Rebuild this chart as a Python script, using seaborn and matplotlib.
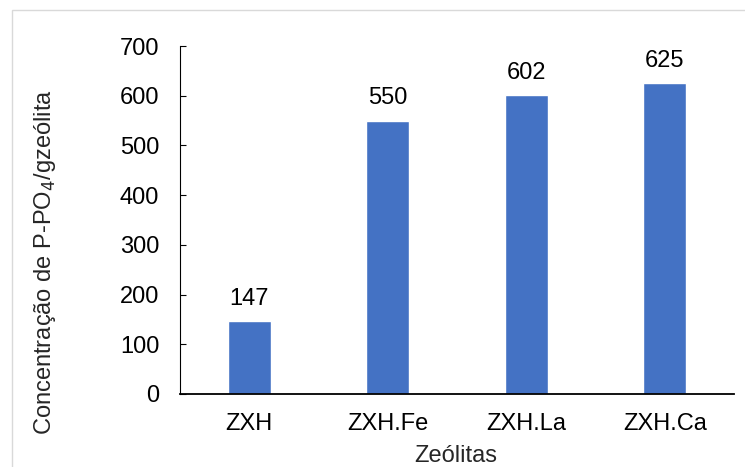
import matplotlib
matplotlib.use("Agg")
import matplotlib.pyplot as plt
import seaborn as sns
import pandas as pd
from matplotlib.patches import Rectangle

categories = ["ZXH", "ZXH.Fe", "ZXH.La", "ZXH.Ca"]
values = [147, 550, 602, 625]
yticks = [0, 100, 200, 300, 400, 500, 600, 700]

sns.set_theme(style="white")
plt.rcParams["font.family"] = ["Liberation Sans", "DejaVu Sans"]

df = pd.DataFrame({"Zeólitas": categories, "valor": values})

FS = 17
W, H = 745, 467
fig = plt.figure(figsize=(W / 100, H / 100), dpi=100)
ax = fig.add_axes([180 / W, (H - 394) / H, (734 - 180) / W, (394 - 46) / H])

sns.barplot(data=df, x="Zeólitas", y="valor", color="#4472C4", width=0.31,
            saturation=1, ax=ax)

for c in ax.containers:
    ax.bar_label(c, labels=[str(v) for v in values], padding=8, fontsize=FS,
                 color="#000000")

ax.set_xlim(-0.5, 3.5)
ax.set_ylim(0, 700)
ax.set_yticks(yticks)
ax.set_yticklabels([str(t) for t in yticks])
ax.tick_params(axis="y", labelsize=FS, length=4, width=0.8, direction="in",
               left=True, color="#000000", pad=15, labelcolor="#000000")
ax.tick_params(axis="x", labelsize=FS, length=0, pad=13.5, labelcolor="#000000")

for s in ["top", "right"]:
    ax.spines[s].set_visible(False)
ax.spines["left"].set_color("#000000")
ax.spines["left"].set_linewidth(0.8)
ax.spines["bottom"].set_color("#000000")
ax.spines["bottom"].set_linewidth(1.3)

ax.set_xlabel("")
ax.set_ylabel("")
fig.text(456 / W, 1 - 456 / H, "Zeólitas", ha="center", va="center", fontsize=FS)
fig.text(45 / W, 1 - 262 / H, "Concentração de P-PO$_4$/gzeólita", ha="center",
         va="center", rotation=90, fontsize=FS)

fig.patches.append(Rectangle((12 / W, -0.01), 1.0, 1 - 10 / H + 0.01,
                             transform=fig.transFigure, fill=False,
                             edgecolor="#D9D9D9", linewidth=1.0))

fig.savefig("out.png", dpi=100)
